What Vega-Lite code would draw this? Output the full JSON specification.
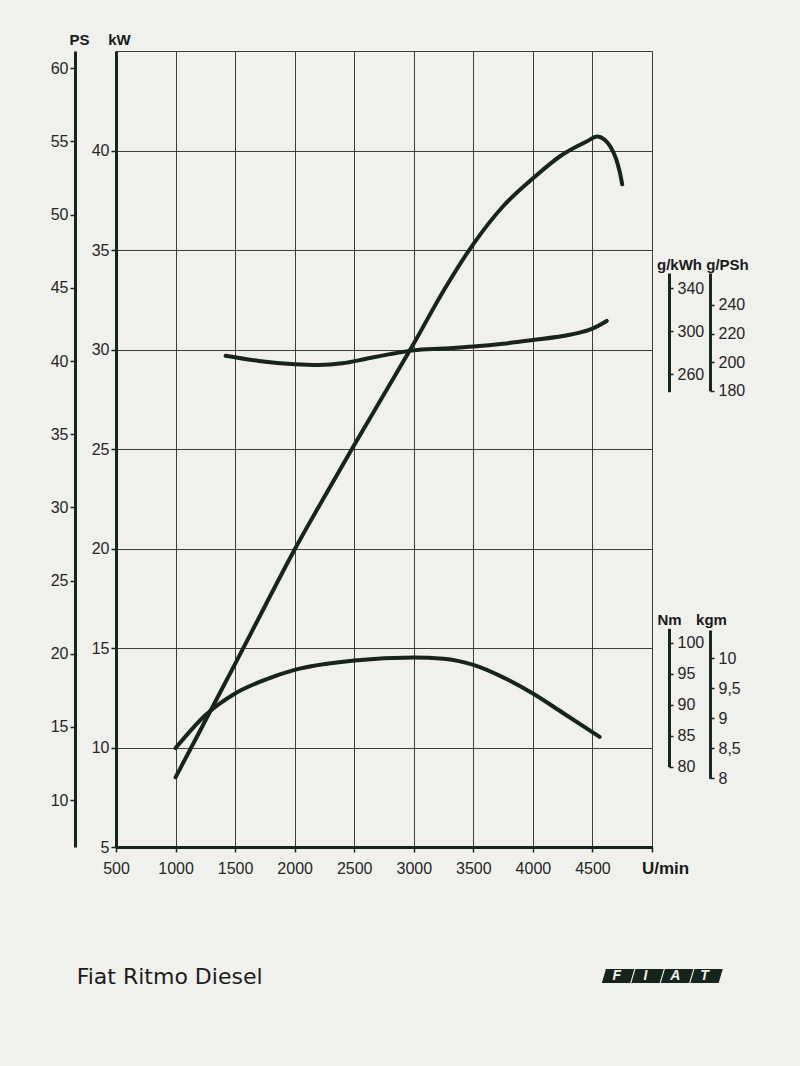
{
  "$schema": "https://vega.github.io/schema/vega-lite/v6.json",
  "width": 536,
  "height": 796,
  "autosize": {"type": "none"},
  "padding": {"left": 116, "top": 51, "right": 148, "bottom": 219},
  "background": "#f0f0ec",
  "config": {
    "view": {"stroke": "#3d3d3d", "strokeWidth": 1},
    "axis": {
      "labelFont": "Liberation Sans",
      "labelFontSize": 16,
      "labelColor": "#262626",
      "titleFont": "Liberation Sans",
      "titleFontSize": 15,
      "titleFontWeight": "bold",
      "titleColor": "#1a1a1a",
      "titleAngle": 0,
      "titleAlign": "center",
      "titleBaseline": "middle",
      "domainColor": "#17251c",
      "domainWidth": 3,
      "tickColor": "#17251c",
      "tickWidth": 1.5,
      "tickSize": 5,
      "labelFlush": false,
      "labelOverlap": false,
      "labelBound": false,
      "grid": false
    }
  },
  "datasets": {
    "power": [
      {"rpm": 1000, "kW": 8.5}, {"rpm": 1250, "kW": 11.35}, {"rpm": 1500, "kW": 14.2},
      {"rpm": 1750, "kW": 17.1}, {"rpm": 2000, "kW": 19.95}, {"rpm": 2250, "kW": 22.6},
      {"rpm": 2500, "kW": 25.2}, {"rpm": 2750, "kW": 27.75}, {"rpm": 3000, "kW": 30.3},
      {"rpm": 3250, "kW": 32.95}, {"rpm": 3500, "kW": 35.3},
      {"rpm": 3750, "kW": 37.2}, {"rpm": 4000, "kW": 38.6}, {"rpm": 4250, "kW": 39.8},
      {"rpm": 4450, "kW": 40.45}, {"rpm": 4540, "kW": 40.7}, {"rpm": 4600, "kW": 40.55},
      {"rpm": 4650, "kW": 40.2}, {"rpm": 4700, "kW": 39.55}, {"rpm": 4730, "kW": 38.9},
      {"rpm": 4750, "kW": 38.3}
    ],
    "torque": [
      {"rpm": 1000, "Nm": 83.0}, {"rpm": 1250, "Nm": 88.3}, {"rpm": 1500, "Nm": 91.8},
      {"rpm": 1750, "Nm": 94.0}, {"rpm": 2000, "Nm": 95.6}, {"rpm": 2500, "Nm": 97.1},
      {"rpm": 3000, "Nm": 97.6}, {"rpm": 3250, "Nm": 97.4}, {"rpm": 3500, "Nm": 96.4},
      {"rpm": 3750, "Nm": 94.4}, {"rpm": 4000, "Nm": 91.8}, {"rpm": 4250, "Nm": 88.7},
      {"rpm": 4560, "Nm": 84.8}
    ],
    "consumption": [
      {"rpm": 1420, "gkWh": 277.3}, {"rpm": 1700, "gkWh": 272.5}, {"rpm": 2000, "gkWh": 269.5},
      {"rpm": 2200, "gkWh": 268.8}, {"rpm": 2400, "gkWh": 270.3}, {"rpm": 2600, "gkWh": 274.5},
      {"rpm": 2800, "gkWh": 278.8}, {"rpm": 3000, "gkWh": 282.3}, {"rpm": 3250, "gkWh": 284.0},
      {"rpm": 3500, "gkWh": 285.9}, {"rpm": 3750, "gkWh": 288.5}, {"rpm": 4000, "gkWh": 291.9},
      {"rpm": 4250, "gkWh": 295.6}, {"rpm": 4400, "gkWh": 299.0}, {"rpm": 4500, "gkWh": 302.5},
      {"rpm": 4620, "gkWh": 309.6}
    ]
  },
  "layer": [
    {
      "layer": [
        {
          "data": {"name": "power"},
          "mark": {"type": "line", "interpolate": "monotone", "strokeWidth": 4, "color": "#16241b", "strokeCap": "round"},
          "encoding": {
            "x": {"field": "rpm", "type": "quantitative", "scale": {"domain": [500, 5000], "zero": false, "nice": false},
                  "axis": {"values": [500, 1000, 1500, 2000, 2500, 3000, 3500, 4000, 4500, 5000], "format": "d",
                           "labelExpr": "datum.value == 5000 ? '' : datum.label", "grid": true, "gridColor": "#3d3d3d", "gridWidth": 1,
                           "labelPadding": 8, "title": "U/min", "titleX": 549, "titleY": 21, "titleFontSize": 17}},
            "y": {"field": "kW", "type": "quantitative", "scale": {"domain": [5, 45], "zero": false, "nice": false},
                  "axis": {"orient": "left", "values": [5, 10, 15, 20, 25, 30, 35, 40], "grid": true, "gridColor": "#3d3d3d", "gridWidth": 1,
                           "labelPadding": 2, "title": "kW", "titleX": 3, "titleY": -12}}
          }
        },
        {
          "data": {"values": [{}]},
          "mark": {"type": "point", "shape": "M-1.02,0.118L-0.54,0.118L-0.47,-0.118L-0.95,-0.118ZM-0.52,0.118L-0.04,0.118L0.03,-0.118L-0.45,-0.118ZM-0.02,0.118L0.46,0.118L0.53,-0.118L0.05,-0.118ZM0.48,0.118L0.96,0.118L1.03,-0.118L0.55,-0.118Z",
                   "filled": true, "size": 13924, "color": "#16241b", "opacity": 1, "strokeWidth": 0},
          "encoding": {"x": {"datum": 5084, "type": "quantitative"}, "y": {"datum": -1.48, "type": "quantitative"}}
        },
        {
          "data": {"values": [{}]},
          "mark": {"type": "text", "text": "F", "font": "Liberation Sans", "fontSize": 14, "fontStyle": "italic", "fontWeight": "bold", "color": "#f0f0ec", "align": "center", "baseline": "middle"},
          "encoding": {"x": {"datum": 4704, "type": "quantitative"}, "y": {"datum": -1.5, "type": "quantitative"}}
        },
        {
          "data": {"values": [{}]},
          "mark": {"type": "text", "text": "I", "font": "Liberation Sans", "fontSize": 14, "fontStyle": "italic", "fontWeight": "bold", "color": "#f0f0ec", "align": "center", "baseline": "middle"},
          "encoding": {"x": {"datum": 4944, "type": "quantitative"}, "y": {"datum": -1.5, "type": "quantitative"}}
        },
        {
          "data": {"values": [{}]},
          "mark": {"type": "text", "text": "A", "font": "Liberation Sans", "fontSize": 14, "fontStyle": "italic", "fontWeight": "bold", "color": "#f0f0ec", "align": "center", "baseline": "middle"},
          "encoding": {"x": {"datum": 5196, "type": "quantitative"}, "y": {"datum": -1.5, "type": "quantitative"}}
        },
        {
          "data": {"values": [{}]},
          "mark": {"type": "text", "text": "T", "font": "Liberation Sans", "fontSize": 14, "fontStyle": "italic", "fontWeight": "bold", "color": "#f0f0ec", "align": "center", "baseline": "middle"},
          "encoding": {"x": {"datum": 5440, "type": "quantitative"}, "y": {"datum": -1.5, "type": "quantitative"}}
        },
        {
          "data": {"values": [{}]},
          "mark": {"type": "text", "text": "Fiat Ritmo Diesel", "font": "DejaVu Sans", "fontSize": 22, "color": "#1c1c1c", "align": "left", "baseline": "alphabetic"},
          "encoding": {"x": {"datum": 170, "type": "quantitative"}, "y": {"datum": -1.9, "type": "quantitative"}}
        }
      ]
    },
    {
      "data": {"values": [{}]},
      "mark": {"type": "rule", "opacity": 0},
      "encoding": {
        "y": {"datum": 30, "type": "quantitative", "scale": {"domain": [6.798, 61.183], "zero": false, "nice": false},
              "axis": {"orient": "left", "offset": 41, "values": [10, 15, 20, 25, 30, 35, 40, 45, 50, 55, 60],
                       "labelPadding": 2, "title": "PS", "titleX": 4, "titleY": -12}}
      }
    },
    {
      "data": {"name": "consumption"},
      "mark": {"type": "line", "interpolate": "monotone", "strokeWidth": 4, "color": "#16241b", "strokeCap": "round"},
      "encoding": {
        "x": {"field": "rpm", "type": "quantitative", "scale": {"domain": [500, 5000], "zero": false, "nice": false},
              "axis": {"values": [500, 1000, 1500, 2000, 2500, 3000, 3500, 4000, 4500, 5000], "format": "d",
                       "labelExpr": "datum.value == 5000 ? '' : datum.label", "grid": true, "gridColor": "#3d3d3d", "gridWidth": 1,
                       "labelPadding": 8, "title": "U/min", "titleX": 549, "titleY": 21, "titleFontSize": 17}},
        "y": {"field": "gkWh", "type": "quantitative", "scale": {"domain": [244, 354], "range": [340.7, 222], "zero": false, "nice": false},
              "axis": {"orient": "right", "offset": 17, "values": [260, 300, 340], "tickSize": 4, "labelPadding": 4,
                       "title": "g/kWh", "titleX": 10, "titleY": 213}}
      }
    },
    {
      "data": {"values": [{}]},
      "mark": {"type": "rule", "opacity": 0},
      "encoding": {
        "y": {"datum": 200, "type": "quantitative", "scale": {"domain": [180, 262.4], "range": [339.7, 222], "zero": false, "nice": false},
              "axis": {"orient": "right", "offset": 58, "values": [180, 200, 220, 240], "tickSize": 4, "labelPadding": 4,
                       "title": "g/PSh", "titleX": 17, "titleY": 213}}
      }
    },
    {
      "data": {"name": "torque"},
      "mark": {"type": "line", "interpolate": "monotone", "strokeWidth": 4, "color": "#16241b", "strokeCap": "round"},
      "encoding": {
        "x": {"field": "rpm", "type": "quantitative", "scale": {"domain": [500, 5000], "zero": false, "nice": false},
              "axis": {"values": [500, 1000, 1500, 2000, 2500, 3000, 3500, 4000, 4500, 5000], "format": "d",
                       "labelExpr": "datum.value == 5000 ? '' : datum.label", "grid": true, "gridColor": "#3d3d3d", "gridWidth": 1,
                       "labelPadding": 8, "title": "U/min", "titleX": 549, "titleY": 21, "titleFontSize": 17}},
        "y": {"field": "Nm", "type": "quantitative", "scale": {"domain": [80, 102.3], "range": [715.7, 577.3], "zero": false, "nice": false},
              "axis": {"orient": "right", "offset": 17, "values": [80, 85, 90, 95, 100], "tickSize": 4, "labelPadding": 4,
                       "title": "Nm", "titleX": 0, "titleY": 568}}
      }
    },
    {
      "data": {"values": [{}]},
      "mark": {"type": "rule", "opacity": 0},
      "encoding": {
        "y": {"datum": 9, "type": "quantitative", "scale": {"domain": [8, 10.47], "range": [727.3, 579], "zero": false, "nice": false},
              "axis": {"orient": "right", "offset": 58, "values": [8, 8.5, 9, 9.5, 10], "format": ".1~f",
                       "labelExpr": "replace(datum.label, '.', ',')", "tickSize": 4, "labelPadding": 4,
                       "title": "kgm", "titleX": 1, "titleY": 568}}
      }
    }
  ],
  "resolve": {"scale": {"y": "independent"}, "axis": {"y": "independent"}}
}
